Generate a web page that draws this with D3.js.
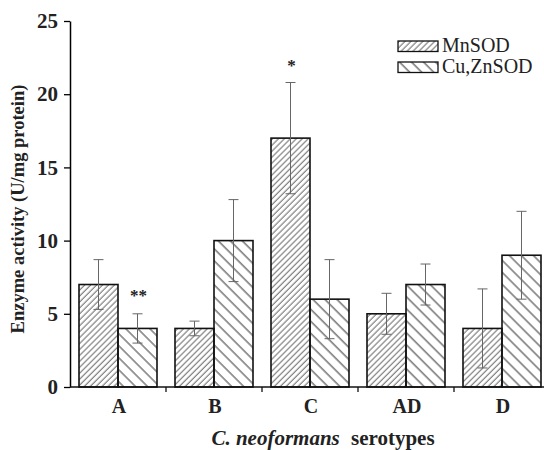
<!DOCTYPE html>
<html lang="en">
<head>
<meta charset="UTF-8">
<script src="https://d3js.org/d3.v7.min.js"></script>
<style>
  body { margin: 0; background: #fff; overflow: hidden; }
  text { font-family: "Liberation Serif", "DejaVu Serif", serif; }
</style>
</head>
<body>
<svg width="544" height="450"></svg>
<script>
// data
var serotypes = ["A", "B", "C", "AD", "D"];
var enzymes = ["MnSOD", "Cu,ZnSOD"];
var mnsod = [7, 4, 17, 5, 4];
var mnsodErr = [1.7, 0.5, 3.8, 1.4, 2.7];
var cuzn = [4, 10, 6, 7, 9];
var cuznErr = [1.0, 2.8, 2.7, 1.4, 3.0];
var marks = [
  {serotype: "A", enzyme: "Cu,ZnSOD", label: "**", value: 5.9},
  {serotype: "C", enzyme: "MnSOD", label: "*", value: 21.6}
];
var yTicks = [0, 5, 10, 15, 20, 25];

var rows = [];
serotypes.forEach(function(s, i) {
  rows.push({serotype: s, enzyme: "MnSOD", value: mnsod[i], err: mnsodErr[i]});
  rows.push({serotype: s, enzyme: "Cu,ZnSOD", value: cuzn[i], err: cuznErr[i]});
});

var svg = d3.select("svg");

var x = d3.scaleBand().domain(serotypes).range([70, 550])
    .paddingInner(0.1875).paddingOuter(0.09375);
var xSub = d3.scaleBand().domain(enzymes).range([0, x.bandwidth()]);
var y = d3.scaleLinear().domain([0, 25]).range([387, 21]);

// hatch patterns
var defs = svg.append("defs");
var p1 = defs.append("pattern").attr("id", "hatchMn")
    .attr("patternUnits", "userSpaceOnUse").attr("width", 4.2).attr("height", 10)
    .attr("patternTransform", "rotate(45)");
p1.append("line").attr("x1", 1).attr("y1", 0).attr("x2", 1).attr("y2", 10)
    .attr("stroke", "#555").attr("stroke-width", 0.9);
var p2 = defs.append("pattern").attr("id", "hatchCu")
    .attr("patternUnits", "userSpaceOnUse").attr("width", 8.5).attr("height", 10)
    .attr("patternTransform", "rotate(-45)");
p2.append("line").attr("x1", 1).attr("y1", 0).attr("x2", 1).attr("y2", 10)
    .attr("stroke", "#333").attr("stroke-width", 1);

var fills = {"MnSOD": "url(#hatchMn)", "Cu,ZnSOD": "url(#hatchCu)"};

// bars
svg.append("g").selectAll("rect").data(rows).join("rect")
    .attr("x", function(d) { return x(d.serotype) + xSub(d.enzyme); })
    .attr("y", function(d) { return y(d.value); })
    .attr("width", xSub.bandwidth())
    .attr("height", function(d) { return y(0) - y(d.value); })
    .attr("fill", function(d) { return fills[d.enzyme]; })
    .attr("stroke", "#111").attr("stroke-width", 1.6);

// error bars
var eb = svg.append("g").attr("stroke", "#666").attr("stroke-width", 1);
rows.forEach(function(d) {
  var cx = x(d.serotype) + xSub(d.enzyme) + xSub.bandwidth() / 2;
  eb.append("line").attr("x1", cx).attr("x2", cx)
      .attr("y1", y(d.value + d.err)).attr("y2", y(d.value - d.err));
  [d.value + d.err, d.value - d.err].forEach(function(v) {
    eb.append("line").attr("x1", cx - 5).attr("x2", cx + 5)
        .attr("y1", y(v)).attr("y2", y(v));
  });
});

// significance marks
svg.append("g").selectAll("text").data(marks).join("text")
    .attr("x", function(d) { return x(d.serotype) + xSub(d.enzyme) + xSub.bandwidth() / 2 + 1; })
    .attr("y", function(d) { return y(d.value); })
    .attr("text-anchor", "middle").attr("font-weight", "bold").attr("font-size", 17)
    .attr("fill", "#222")
    .text(function(d) { return d.label; });

// y axis
var yAxis = svg.append("g").attr("transform", "translate(70,0)")
    .call(d3.axisLeft(y).tickValues(yTicks).tickSize(6).tickPadding(6).tickSizeOuter(0));
yAxis.select(".domain").attr("stroke-width", 1.5);
yAxis.selectAll(".tick line").attr("stroke-width", 1.3);
yAxis.selectAll(".tick text").attr("font-family", "Liberation Serif")
    .attr("font-weight", "bold").attr("font-size", 21).attr("fill", "#222");

// x axis
svg.append("line").attr("x1", 70).attr("x2", 550).attr("y1", y(0)).attr("y2", y(0))
    .attr("stroke", "#111").attr("stroke-width", 1.5);
svg.append("g").selectAll("line").data(serotypes.slice(1)).join("line")
    .attr("x1", function(d) { return x(d) - x.step() * x.paddingInner() / 2; })
    .attr("x2", function(d) { return x(d) - x.step() * x.paddingInner() / 2; })
    .attr("y1", y(0)).attr("y2", y(0) + 5)
    .attr("stroke", "#111").attr("stroke-width", 1.3);
svg.append("g").selectAll("text").data(serotypes).join("text")
    .attr("x", function(d) { return x(d) + x.bandwidth() / 2 + 1; })
    .attr("y", 413)
    .attr("text-anchor", "middle").attr("font-weight", "bold").attr("font-size", 20)
    .attr("fill", "#222")
    .text(function(d) { return d; });

// axis titles
var xt = svg.append("text").attr("x", 323).attr("y", 445)
    .attr("text-anchor", "middle").attr("font-weight", "bold").attr("font-size", 21)
    .attr("fill", "#222");
xt.append("tspan").attr("font-style", "italic").text("C. neoformans");
xt.append("tspan").attr("dx", 6).text(" serotypes");

svg.append("text").attr("transform", "translate(24,209) rotate(-90)")
    .attr("text-anchor", "middle").attr("font-weight", "bold").attr("font-size", 18.5)
    .attr("fill", "#222")
    .text("Enzyme activity (U/mg protein)");

// legend
var lg = svg.append("g").attr("transform", "translate(398,41)");
enzymes.forEach(function(e, i) {
  var row = lg.append("g").attr("transform", "translate(0," + i * 21 + ")");
  row.append("rect").attr("width", 40).attr("height", 10.5)
      .attr("fill", fills[e]).attr("stroke", "#111").attr("stroke-width", 1.3);
  row.append("text").attr("x", 44).attr("y", 10.5).attr("font-size", 20)
      .attr("fill", "#222").text(e);
});
</script>
</body>
</html>
